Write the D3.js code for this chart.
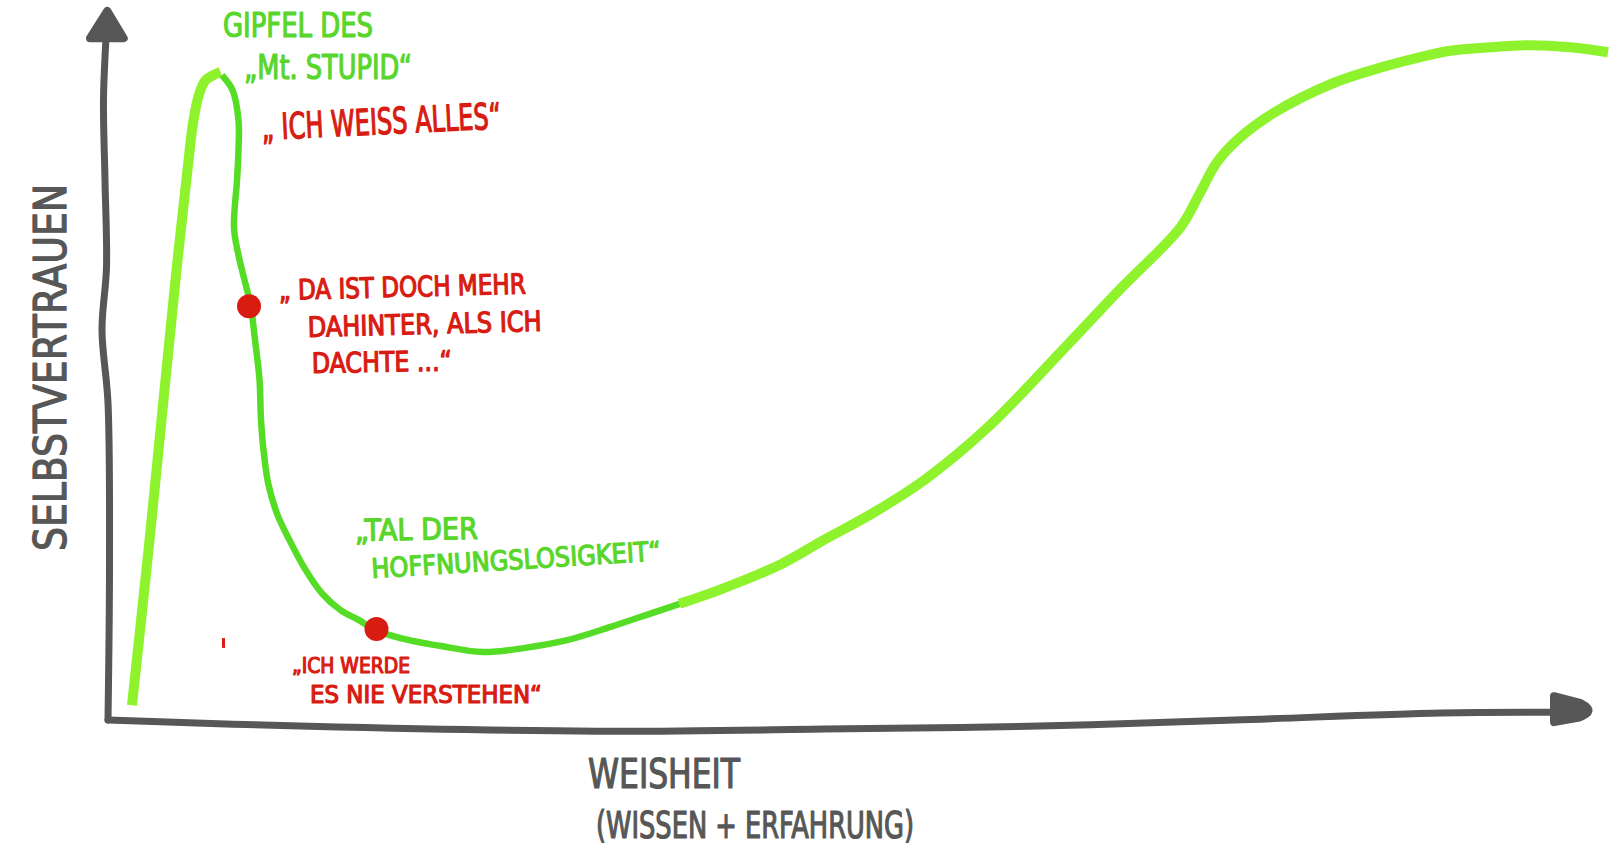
<html>
    <head>
        <script src="https://cdnjs.cloudflare.com/ajax/libs/d3/7.8.5/d3.min.js"></script>
    </head>
    <style>
        body{
            margin: 0;
            background: #ffffff;
        }
        path.axis{
            fill: none;
            stroke: #575757;
            stroke-width: 7;
            stroke-linecap: round;
            stroke-linejoin: round;
        }
        path.arrow{
            fill: #575757;
            stroke: #575757;
            stroke-width: 8;
            stroke-linejoin: round;
        }
        path.thick{
            fill: none;
            stroke: #8ef32c;
            stroke-width: 10;
            stroke-linecap: butt;
            stroke-linejoin: round;
        }
        path.thin{
            fill: none;
            stroke: #55dc24;
            stroke-width: 6.5;
            stroke-linecap: butt;
            stroke-linejoin: round;
        }
        circle.dot{
            fill: #d81c12;
        }
        text{
            font-family: "Liberation Sans Narrow", "DejaVu Sans Condensed", "DejaVu Sans", sans-serif;
            stroke-width: 1.2;
            stroke-linejoin: round;
        }
    </style>
    <body>
        <svg style="width:1614px; height:846px; display:block"></svg>
        <script>
            // Weisheit (x) vs. Selbstvertrauen (y), both 0..100
            var riseX = [1.6, 2.7, 3.7, 4.6, 5.3, 5.7, 6.1, 6.5, 7.0, 7.5];
            var riseY = [2.1, 24.3, 45.7, 65.0, 78.6, 85.7, 89.6, 91.4, 92.1, 92.6];

            var fallX = [7.6, 8.3, 8.7, 8.7, 8.6, 8.4, 8.7, 9.0, 9.5, 9.8, 10.1, 10.2, 10.4, 10.7, 11.3, 12.1, 13.1, 14.3, 15.5, 16.7, 17.8, 19.5, 22.1, 25.0, 27.8, 30.6, 33.5, 36.3, 38.1];
            var fallY = [92.1, 90.0, 85.7, 81.4, 77.1, 70.3, 66.4, 63.7, 59.3, 54.3, 48.6, 42.9, 37.9, 33.6, 29.3, 25.7, 21.7, 18.0, 15.7, 14.3, 12.9, 11.7, 10.6, 9.7, 10.3, 11.4, 13.3, 15.3, 16.6];

            var growX = [38.1, 40.9, 44.9, 47.7, 51.1, 54.5, 58.7, 64.1, 67.5, 71.5, 72.8, 73.9, 75.3, 77.7, 81.7, 85.0, 87.5, 89.5, 92.1, 94.8, 97.5, 100.0];
            var growY = [16.6, 18.7, 22.3, 25.7, 29.7, 34.4, 41.9, 53.9, 61.6, 70.4, 75.3, 79.6, 82.9, 86.7, 91.0, 93.3, 94.7, 95.6, 96.1, 96.4, 96.1, 95.4];

            // marked moments on the curve
            var dotX = [9.4, 17.9];
            var dotY = [59.1, 13.0];

            // hand drawn axes
            var yAxisX = [0, 0.1, 0, -0.4, -0.1, -0.2, -0.3, -0.1];
            var yAxisY = [0, 22.4, 45.3, 55.7, 64.7, 77.1, 88.6, 98.6];
            var xAxisX = [0, 13.4, 32.6, 47.7, 61.4, 75.1, 88.9, 96.5];
            var xAxisY = [0, -0.9, -1.6, -1.3, -0.9, 0, 1.0, 1.1];

            var labels = [
                {t: "GIPFEL DES", x: 223, y: 37, len: 150, size: 33, rot: 0, c: "#58d62c"},
                {t: "\u201EMt. STUPID\u201C", x: 244, y: 79, len: 168, size: 34, rot: 0, c: "#58d62c"},
                {t: "\u201E ICH WEISS ALLES\u201C", x: 262, y: 140, len: 240, size: 36, rot: -2.8, c: "#d81c12"},
                {t: "\u201E DA IST DOCH MEHR", x: 279, y: 300, len: 247, size: 28, rot: -1.5, c: "#d81c12"},
                {t: "DAHINTER, ALS ICH", x: 308, y: 337, len: 234, size: 28, rot: -1.5, c: "#d81c12"},
                {t: "DACHTE ...\u201C", x: 312, y: 373, len: 140, size: 28, rot: -1, c: "#d81c12"},
                {t: "\u201ETAL DER", x: 355, y: 541, len: 123, size: 30, rot: -1, c: "#58d62c"},
                {t: "HOFFNUNGSLOSIGKEIT\u201C", x: 372, y: 578, len: 290, size: 27, rot: -3.5, c: "#58d62c"},
                {t: "\u201EICH WERDE", x: 292, y: 673, len: 118, size: 22, rot: 0, c: "#d81c12"},
                {t: "ES NIE VERSTEHEN\u201C", x: 310, y: 703, len: 232, size: 25, rot: 0, c: "#d81c12"},
                {t: "WEISHEIT", x: 588, y: 788, len: 152, size: 41, rot: 0, c: "#575757"},
                {t: "(WISSEN + ERFAHRUNG)", x: 596, y: 838, len: 318, size: 37, rot: 0, c: "#575757"},
                {t: "SELBSTVERTRAUEN", x: 66, y: 551, len: 367, size: 44, rot: -90, c: "#575757"}
            ];

            var x = d3.scaleLinear().domain([0, 100]).range([108, 1608]);
            var y = d3.scaleLinear().domain([0, 100]).range([720, 20]);

            var svg = d3.select("svg");

            var line = d3.line()
                .x(d => x(d[0]))
                .y(d => y(d[1]))
                .curve(d3.curveCatmullRom.alpha(0.5));

            function pts(xs, ys){
                return xs.map((v, i) => [v, ys[i]]);
            }

            // axes
            svg.append("path")
                .attr("class", "axis")
                .attr("d", line(pts(yAxisX, yAxisY)));
            svg.append("path")
                .attr("class", "axis")
                .attr("d", line(pts(xAxisX, xAxisY)));

            var arrowLine = d3.line().x(d => x(d[0])).y(d => y(d[1]));
            svg.append("path")
                .attr("class", "arrow")
                .attr("d", arrowLine([[-1.2, 97.4], [-0.05, 101.3], [1.05, 97.4]]) + "Z");
            svg.append("path")
                .attr("class", "arrow")
                .attr("d", "M" + x(96.4) + "," + y(3.4) +
                           "L" + x(98.2) + "," + y(2.4) +
                           " Q" + x(99.3) + "," + y(1.2) + " " + x(98.0) + "," + y(0.3) +
                           "L" + x(96.4) + "," + y(-0.3) + "Z");

            // curve
            svg.append("path")
                .attr("class", "thick")
                .attr("d", line(pts(riseX, riseY)));
            svg.append("path")
                .attr("class", "thin")
                .attr("d", line(pts(fallX, fallY)));
            svg.append("path")
                .attr("class", "thick")
                .attr("d", line(pts(growX, growY)));

            svg.selectAll("circle.dot")
                .data(pts(dotX, dotY))
                .enter()
                .append("circle")
                .attr("class", "dot")
                .attr("r", 12)
                .attr("cx", d => x(d[0]))
                .attr("cy", d => y(d[1]));

            // little stray mark
            svg.append("line")
                .attr("x1", x(7.7)).attr("y1", y(11.7))
                .attr("x2", x(7.7)).attr("y2", y(10.3))
                .style("stroke", "#d81c12")
                .style("stroke-width", 3);

            svg.selectAll("text.note")
                .data(labels)
                .enter()
                .append("text")
                .attr("class", "note")
                .attr("transform", d => "translate(" + d.x + "," + d.y + ") rotate(" + d.rot + ")")
                .attr("textLength", d => d.len)
                .attr("lengthAdjust", "spacingAndGlyphs")
                .style("font-size", d => d.size + "px")
                .style("fill", d => d.c)
                .style("stroke", d => d.c)
                .text(d => d.t);
        </script>
    </body>
</html>
